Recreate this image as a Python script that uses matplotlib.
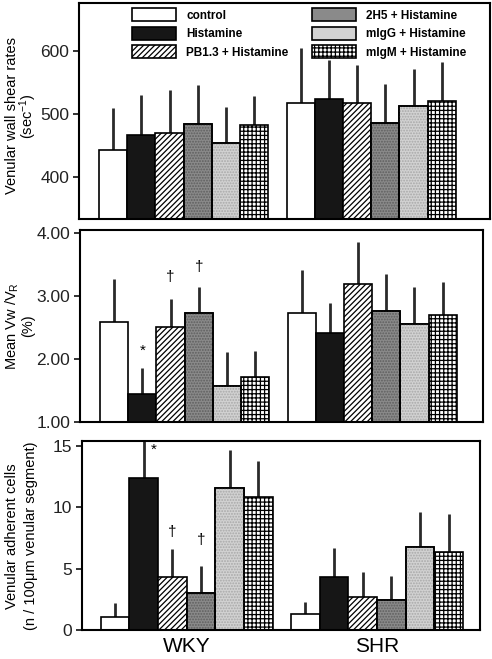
import matplotlib
matplotlib.use("Agg")
import matplotlib.pyplot as plt
import numpy as np

plt.rcParams['font.family'] = ['Liberation Sans', 'DejaVu Sans']
plt.rcParams['mathtext.fontset'] = 'custom'
plt.rcParams['mathtext.rm'] = 'Liberation Sans'
plt.rcParams['mathtext.it'] = 'Liberation Sans'
plt.rcParams['hatch.linewidth'] = 0.9

groups = ["WKY", "SHR"]
treatments = ["control", "Histamine", "PB1.3 + Histamine",
              "2H5 + Histamine", "mIgG + Histamine", "mIgM + Histamine"]

# Panel 1: venular wall shear rates (sec^-1)
shear_wky = [443, 466, 470, 484, 453, 483]
shear_wky_err = [67, 64, 68, 62, 58, 46]
shear_shr = [517, 523, 517, 485, 513, 521]
shear_shr_err = [87, 63, 60, 63, 58, 62]

# Panel 2: mean Vw/VR (%)
ratio_wky = [2.58, 1.44, 2.51, 2.73, 1.57, 1.71]
ratio_wky_err = [0.68, 0.41, 0.44, 0.41, 0.54, 0.42]
ratio_shr = [2.72, 2.41, 3.19, 2.75, 2.55, 2.70]
ratio_shr_err = [0.69, 0.48, 0.66, 0.60, 0.59, 0.52]

# Panel 3: venular adherent cells
cells_wky = [1.07, 12.35, 4.34, 2.98, 11.6, 10.8]
cells_wky_err = [1.12, 3.5, 2.27, 2.21, 3.1, 3.0]
cells_shr = [1.34, 4.29, 2.70, 2.43, 6.75, 6.34]
cells_shr_err = [0.98, 2.40, 2.00, 1.94, 2.89, 3.14]

# significance markers (WKY group): (bar index, symbol, y)
marks_ratio = [(1, "*", 2.12), (2, "\u2020", 3.30), (3, "\u2020", 3.45)]
marks_cells = [(1, "*", 14.7), (2, "\u2020", 8.0), (3, "\u2020", 7.3)]

facecolors = ["white", "#161616", "white", "#8a8a8a", "#d2d2d2", "white"]
hatches = [None, None, "//////", None, None, "++++"]
stipple = [None, None, None, "#5e5e5e", "#a8a8a8", None]

W, H = 492, 659
fig = plt.figure(figsize=(W / 100, H / 100), dpi=100)

def ax_px(l, r, t, b):
    return fig.add_axes([l / W, (H - b) / H, (r - l) / W, (b - t) / H])

ax1 = ax_px(79, 490, 3, 219)
ax2 = ax_px(80, 483, 230, 422)
ax3 = ax_px(82, 480, 441, 630)

pos_wky = np.arange(6)
pos_shr = np.arange(6) + 6.65

def draw(ax, wky, wky_e, shr, shr_e, base):
    handles = []
    for i in range(6):
        for pos, vals, errs in ((pos_wky, wky, wky_e), (pos_shr, shr, shr_e)):
            b = ax.bar(pos[i], vals[i] - base, bottom=base, width=1.0,
                       color=facecolors[i], edgecolor="black", linewidth=1.2,
                       hatch=hatches[i], zorder=2, label=treatments[i])
            if stipple[i]:
                ax.bar(pos[i], vals[i] - base, bottom=base, width=1.0,
                       fill=False, edgecolor=stipple[i], linewidth=0,
                       hatch="......", zorder=2.5)
                ax.bar(pos[i], vals[i] - base, bottom=base, width=1.0,
                       fill=False, edgecolor="black", linewidth=1.2, zorder=2.6)
            ax.vlines(pos[i], vals[i], vals[i] + errs[i], color="#2a2a2a",
                      linewidth=2.0, zorder=1)
        handles.append(b)
    return handles

h = draw(ax1, shear_wky, shear_wky_err, shear_shr, shear_shr_err, 300)
draw(ax2, ratio_wky, ratio_wky_err, ratio_shr, ratio_shr_err, 1.0)
draw(ax3, cells_wky, cells_wky_err, cells_shr, cells_shr_err, 0.0)

ax1.set_xlim(-1.21, 13.36)
ax2.set_xlim(-1.21, 13.08)
ax3.set_xlim(-1.16, 12.75)
ax1.set_ylim(333, 676)
ax2.set_ylim(1.0, 4.04)
ax3.set_ylim(0, 15.4)

ax1.set_yticks([400, 500, 600])
ax2.set_yticks([1, 2, 3, 4])
ax2.set_yticklabels(["1.00", "2.00", "3.00", "4.00"])
ax3.set_yticks([0, 5, 10, 15])

for ax in (ax1, ax2, ax3):
    for s in ax.spines.values():
        s.set_linewidth(1.5)
    ax.tick_params(axis='y', direction='out', length=4, width=1.3,
                   labelsize=12.5, pad=3, colors='#222222')
    ax.tick_params(axis='x', length=0)
    ax.set_xticks([])

ax3.set_xticks([pos_wky.mean(), pos_shr.mean()])
ax3.set_xticklabels(groups, fontsize=15)
ax3.tick_params(axis='x', length=0, pad=5)

for bi, sym, y in marks_ratio:
    ax2.text(pos_wky[bi], y, sym, ha='center', va='center', fontsize=11)
for bi, sym, y in marks_cells:
    dx = 0.35 if sym == "*" else 0.0
    ax3.text(pos_wky[bi] + dx, y, sym, ha='center', va='center', fontsize=11)

# y labels
fig.text(12 / W, 1 - 116 / H, "Venular wall shear rates", rotation=90,
         ha='center', va='center', fontsize=10.5)
fig.text(28 / W, 1 - 116 / H, "(sec$^{-1}$)", rotation=90,
         ha='center', va='center', fontsize=10.5)
fig.text(12 / W, 1 - 326 / H, "Mean Vw /V$_{\\mathrm{R}}$", rotation=90,
         ha='center', va='center', fontsize=10.5)
fig.text(28 / W, 1 - 326 / H, "(%)", rotation=90,
         ha='center', va='center', fontsize=10.5)
fig.text(12 / W, 1 - 536 / H, "Venular adherent cells", rotation=90,
         ha='center', va='center', fontsize=10.5)
fig.text(31 / W, 1 - 536 / H, "(n / 100\u03bcm venular segment)", rotation=90,
         ha='center', va='center', fontsize=10.5)

ax1.legend(handles=h, labels=treatments, ncol=2, loc='upper left',
           bbox_to_anchor=((132 - 79) / 411, 1 - 5 / 216), frameon=False,
           prop={'weight': 'bold', 'size': 8.5}, handlelength=3.7,
           handleheight=1.35, handletextpad=0.9, columnspacing=2.0,
           labelspacing=0.42, borderpad=0, borderaxespad=0)

fig.savefig("out.png", dpi=100)
